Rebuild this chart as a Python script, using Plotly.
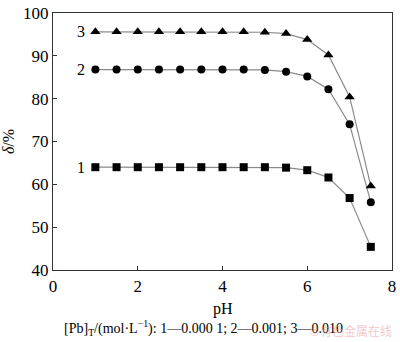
import plotly.graph_objects as go

ph = [1.0, 1.5, 2.0, 2.5, 3.0, 3.5, 4.0, 4.5, 5.0, 5.5, 6.0, 6.5, 7.0, 7.5]
s1 = [64.0, 64.0, 64.0, 64.0, 64.0, 64.0, 64.0, 64.0, 64.0, 63.9, 63.3, 61.6, 56.8, 45.4]
s2 = [86.8, 86.8, 86.8, 86.8, 86.8, 86.8, 86.8, 86.8, 86.7, 86.3, 85.2, 82.2, 74.0, 55.8]
s3 = [95.6, 95.6, 95.6, 95.6, 95.6, 95.6, 95.6, 95.6, 95.5, 95.2, 93.8, 90.2, 80.4, 59.6]
labels = ["1", "2", "3"]
xticks = [0, 2, 4, 6, 8]
yticks = [40, 50, 60, 70, 80, 90, 100]

FONT = "Liberation Serif"
fig = go.Figure()
for ys, sym in [(s1, "square"), (s2, "circle"), (s3, "triangle-up")]:
    fig.add_trace(go.Scatter(
        x=ph, y=ys, mode="lines+markers",
        line=dict(color="#8a8a8a", width=1.2),
        marker=dict(symbol=sym, color="black", size=8 if sym != "triangle-up" else 9,
                    line=dict(width=0)),
        showlegend=False, cliponaxis=False))

for lab, ys in zip(labels, [s1, s2, s3]):
    fig.add_annotation(x=ph[0], y=ys[0], text=lab, showarrow=False,
                       xanchor="right", xshift=-8, font=dict(family=FONT, size=16, color="black"))

fig.add_annotation(xref="paper", yref="paper", x=0.5, y=-0.151, text="pH",
                   showarrow=False, yanchor="middle", font=dict(family=FONT, size=16, color="black"))
fig.add_annotation(xref="paper", yref="paper", x=0.443, y=-0.225,
                   text="[Pb]<sub>T</sub>/(mol·L<sup>−1</sup>): 1—0.000 1; 2—0.001; 3—0.010",
                   showarrow=False, yanchor="middle", xanchor="center",
                   font=dict(family=FONT, size=14, color="black"))
fig.add_annotation(xref="paper", yref="paper", x=1.0, y=-0.235,
                   text="©有色金属在线", showarrow=False, yanchor="middle", xanchor="right",
                   xshift=2, font=dict(family="Noto Sans CJK SC", size=12, color="rgba(230,150,150,0.55)"))

axis_common = dict(showline=True, linecolor="#333333", linewidth=1.2, mirror=True,
                   ticks="inside", ticklen=4, tickcolor="#333333", showgrid=False,
                   zeroline=False, ticklabeloverflow="allow",
                   tickfont=dict(family=FONT, size=17, color="black"))
fig.update_xaxes(range=[0, 8], tickvals=xticks, **axis_common)
fig.update_yaxes(range=[40, 100], tickvals=yticks, **axis_common)

fig.update_layout(
    width=400, height=342,
    margin=dict(l=53, r=4, t=5, b=72),
    plot_bgcolor="white", paper_bgcolor="white",
    yaxis_title=dict(text="<i>δ</i>/%", font=dict(family=FONT, size=16, color="black"), standoff=6),
)
fig.write_html("out.html")
